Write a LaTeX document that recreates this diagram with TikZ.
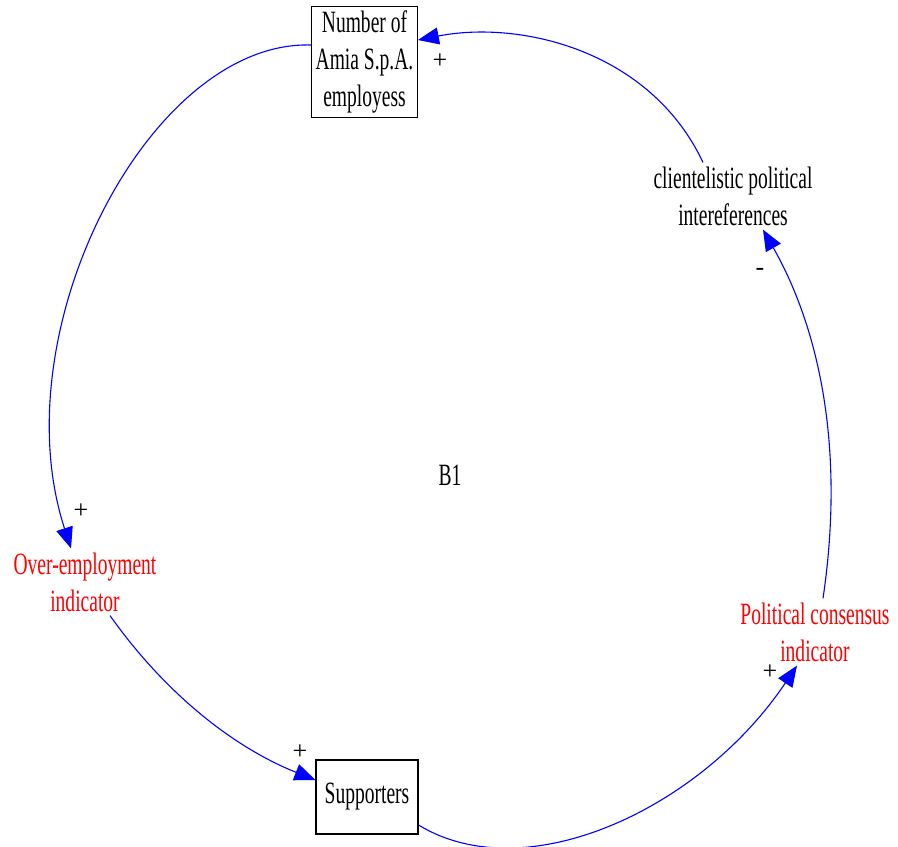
\documentclass[tikz,border=0pt]{standalone}
\usepackage{fontspec}
\setmainfont{Liberation Serif}[FakeStretch=0.63]
\newfontfamily\signfont{Liberation Serif}
\usetikzlibrary{arrows.meta,positioning}
\tikzset{
    x=1pt,y=-1pt,
    link/.style = {draw=blue,line width=1.1pt,-{Triangle[length=21pt,width=17pt]}},
    var/.style = {align=center,inner sep=4pt,font=\fontsize{31}{37}\selectfont},
    stock/.style = {var,draw,line width=1.1pt},
    aux/.style = {var,text=red},
    sign/.style = {inner sep=0pt,font=\signfont\fontsize{26}{30}\selectfont}
}
\begin{document}
\begin{tikzpicture}
  \useasboundingbox (0,0) rectangle (898,847);
  \node[stock,minimum width=105pt,minimum height=110pt] (1) at (364.5,62) {Number of\\Amia S.p.A.\\employess};
  \node[var] (2) at (733,196) {clientelistic political\\intereferences};
  \node[aux] (3) at (815,632) {Political consensus\\indicator};
  \node[stock,minimum width=102pt,minimum height=74pt] (4) at (367,797) {Supporters};
  \node[aux] (5) at (85,582) {Over-employment\\indicator};
  \node[var] (b1) at (450,475) {B1};

  \draw[link] ([yshift=17pt]1.west) .. controls (150,40) and (0,330) .. ([xshift=-14pt]5.north);
  \draw[link] ([xshift=25pt]5.south) .. controls (170,700) and (240,750) .. ([yshift=17pt]4.west);
  \draw[link] ([yshift=-28pt]4.east) .. controls (525,890) and (700,810) .. ([xshift=-18pt]3.south);
  \draw[link] ([xshift=8pt]3.north) .. controls (845,450) and (820,330) .. ([xshift=30pt]2.south);
  \draw[link] ([xshift=-30pt]2.north) .. controls (650,50) and (520,20) .. ([yshift=22pt]1.east);

  \node[sign] (s1) at (440,61) {+};
  \node[sign] (s2) at (760,272) {-};
  \node[sign] (s3) at (81,511) {+};
  \node[sign] (s4) at (300,752) {+};
  \node[sign] (s5) at (770,672) {+};
\end{tikzpicture}
\end{document}
